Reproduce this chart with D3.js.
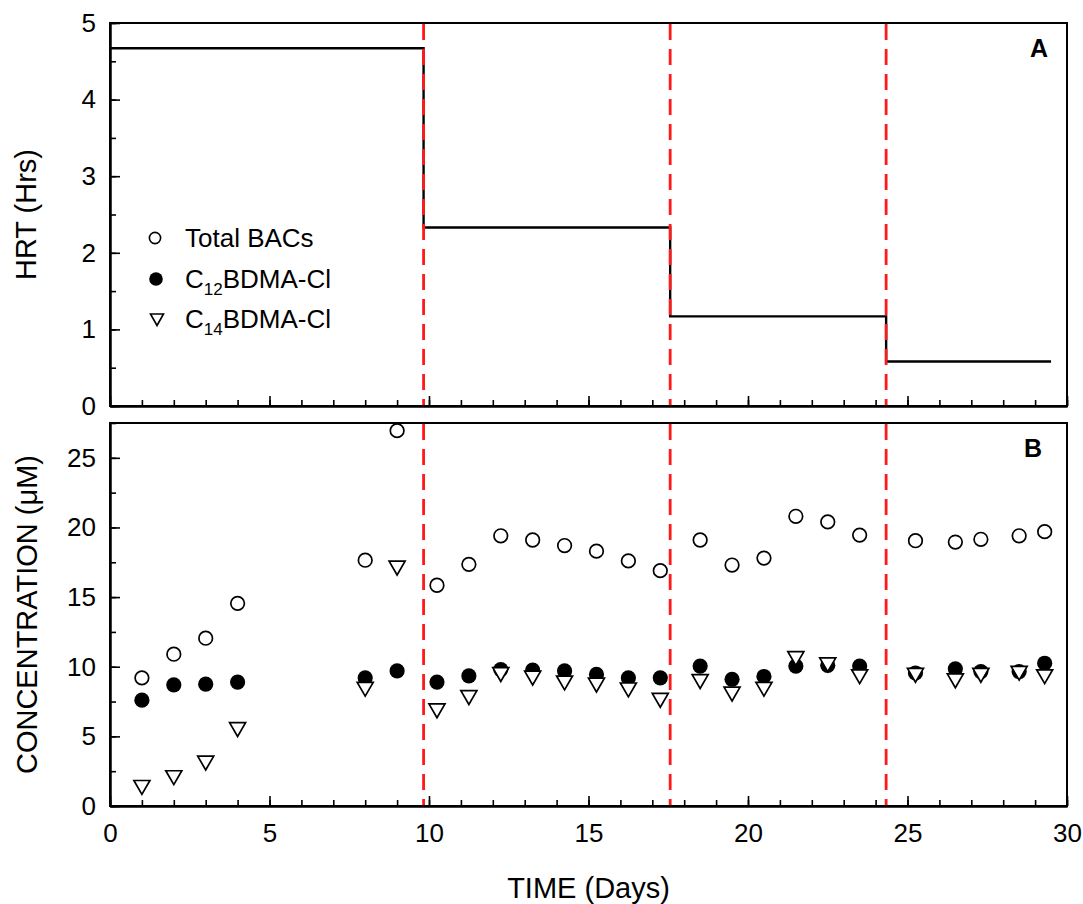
<!DOCTYPE html>
<html>
<head>
<meta charset="utf-8">
<script src="https://cdn.jsdelivr.net/npm/d3@7"></script>
<style>
  html, body { margin: 0; padding: 0; background: #fff; }
  svg { display: block; font-family: "Liberation Sans", Arial, sans-serif; }
</style>
</head>
<body>
<svg id="chart" width="1083" height="904"></svg>
<script>
// Sampling days (shared by all concentration series)
const days = [1, 2, 3, 4, 8, 9, 10.25, 11.25, 12.25, 13.25, 14.25, 15.25, 16.25, 17.25,
              18.5, 19.5, 20.5, 21.5, 22.5, 23.5, 25.25, 26.5, 27.3, 28.5, 29.3];

// Concentrations (µM)
const totalBACs = [9.2, 10.9, 12.05, 14.55, 17.65, 26.95, 15.85, 17.35, 19.4, 19.1, 18.7, 18.3, 17.6, 16.9,
                   19.1, 17.3, 17.8, 20.8, 20.4, 19.45, 19.05, 18.95, 19.15, 19.4, 19.7];
const c12BDMA = [7.6, 8.7, 8.75, 8.9, 9.2, 9.7, 8.9, 9.35, 9.8, 9.75, 9.7, 9.45, 9.2, 9.2,
                 10.05, 9.1, 9.3, 10.05, 10.1, 10.05, 9.55, 9.85, 9.65, 9.65, 10.25];
const c14BDMA = [1.45, 2.15, 3.2, 5.6, 8.5, 17.2, 6.95, 7.9, 9.55, 9.3, 8.95, 8.8, 8.45, 7.7,
                 9.05, 8.15, 8.5, 10.7, 10.25, 9.4, 9.5, 9.1, 9.5, 9.65, 9.4];

// Hydraulic retention time schedule (step changes)
const hrtDays = [0, 9.83, 17.56, 24.33, 29.5];
const hrtHours = [4.67, 2.33, 1.17, 0.58, 0.58];
const changeDays = [9.83, 17.56, 24.33];

// Tick values
const xMajorTicks = [0, 5, 10, 15, 20, 25, 30];
const hrtMajorTicks = [0, 1, 2, 3, 4, 5];
const concMajorTicks = [0, 5, 10, 15, 20, 25];

const svg = d3.select("#chart");
const left = 110, right = 1067;
const topA = 23, bottomA = 406;
const topB = 423, bottomB = 806;

const x = d3.scaleLinear().domain([0, 30]).range([left, right]);
const yA = d3.scaleLinear().domain([0, 5]).range([bottomA, topA]);
const yB = d3.scaleLinear().domain([0, 27.5]).range([bottomB, topB]);

const FONT_TICK = 26, FONT_TITLE = 29, FONT_LEGEND = 26;

function styleAxis(g) {
  g.select(".domain").attr("stroke", "#000").attr("stroke-width", 2);
  g.selectAll(".tick line").attr("stroke", "#000").attr("stroke-width", 1.6);
  g.selectAll(".tick text").attr("fill", "#000").attr("font-size", FONT_TICK)
    .attr("font-family", "'Liberation Sans', Arial, sans-serif");
}

// Draws frame, axes, panel letter and the dashed treatment-change lines;
// returns a group for the data marks that sits beneath the dashed lines.
function drawPanel(yScale, top, bottom, yMajor, yMinorStep, label, labelX, labelY, showXLabels) {
  const g = svg.append("g");
  g.append("rect").attr("x", left).attr("y", top)
    .attr("width", right - left).attr("height", bottom - top)
    .attr("fill", "none").attr("stroke", "#000").attr("stroke-width", 2);

  g.append("g").attr("transform", `translate(0,${bottom})`)
    .call(d3.axisBottom(x).tickValues(d3.range(0, 31, 1)).tickSizeInner(-6).tickSizeOuter(0).tickFormat(""))
    .call(styleAxis);
  g.append("g").attr("transform", `translate(0,${bottom})`)
    .call(d3.axisBottom(x).tickValues(xMajorTicks).tickSizeInner(-10).tickSizeOuter(0)
      .tickPadding(18).tickFormat(showXLabels ? d3.format("d") : ""))
    .call(styleAxis);

  const yMax = yScale.domain()[1];
  g.append("g").attr("transform", `translate(${left},0)`)
    .call(d3.axisLeft(yScale).tickValues(d3.range(0, yMax + 1e-9, yMinorStep)).tickSizeInner(-6).tickSizeOuter(0).tickFormat(""))
    .call(styleAxis);
  g.append("g").attr("transform", `translate(${left},0)`)
    .call(d3.axisLeft(yScale).tickValues(yMajor).tickSizeInner(-10).tickSizeOuter(0)
      .tickPadding(14).tickFormat(d3.format("d")))
    .call(styleAxis);

  g.append("text").attr("x", labelX).attr("y", labelY)
    .attr("text-anchor", "end").attr("font-size", 25).attr("font-weight", "bold")
    .text(label);

  const content = g.append("g").attr("class", "content");

  g.append("g").selectAll("line").data(changeDays).join("line")
    .attr("x1", d => x(d)).attr("x2", d => x(d))
    .attr("y1", top + 1).attr("y2", bottom - 1)
    .attr("stroke", "#ff1a1a").attr("stroke-width", 2.8)
    .attr("stroke-dasharray", "16,9");
  return content;
}

// ---- Panel A: HRT ----
const gA = drawPanel(yA, topA, bottomA, hrtMajorTicks, 0.5, "A", 1048, 57, false);
const hrtPoints = hrtDays.map((d, i) => [d, hrtHours[i]]);
gA.append("path")
  .datum(hrtPoints)
  .attr("fill", "none").attr("stroke", "#000").attr("stroke-width", 2.4)
  .attr("d", d3.line().x(d => x(d[0])).y(d => yA(d[1])).curve(d3.curveStepAfter));

svg.append("text")
  .attr("transform", `translate(36,${(topA + bottomA) / 2}) rotate(-90)`)
  .attr("text-anchor", "middle").attr("font-size", FONT_TITLE).text("HRT (Hrs)");

// ---- Panel B: concentrations ----
const gB = drawPanel(yB, topB, bottomB, concMajorTicks, 2.5, "B", 1042, 457, true);
const triPath = "M-8,-5.3L8,-5.3L0,8.5Z";

gB.selectAll("circle.total").data(days.map((d, i) => [d, totalBACs[i]])).join("circle")
  .attr("class", "total")
  .attr("cx", d => x(d[0])).attr("cy", d => yB(d[1])).attr("r", 6.8)
  .attr("fill", "#fff").attr("stroke", "#000").attr("stroke-width", 1.7);

gB.selectAll("circle.c12").data(days.map((d, i) => [d, c12BDMA[i]])).join("circle")
  .attr("class", "c12")
  .attr("cx", d => x(d[0])).attr("cy", d => yB(d[1])).attr("r", 7.6)
  .attr("fill", "#000");

gB.selectAll("path.c14").data(days.map((d, i) => [d, c14BDMA[i]])).join("path")
  .attr("class", "c14")
  .attr("transform", d => `translate(${x(d[0])},${yB(d[1])})`)
  .attr("d", triPath)
  .attr("fill", "#fff").attr("stroke", "#000").attr("stroke-width", 1.7);

svg.append("text")
  .attr("transform", `translate(37,${(topB + bottomB) / 2}) rotate(-90)`)
  .attr("text-anchor", "middle").attr("font-size", FONT_TITLE).text("CONCENTRATION (μM)");

svg.append("text")
  .attr("x", (left + right) / 2).attr("y", 898)
  .attr("text-anchor", "middle").attr("font-size", FONT_TITLE).text("TIME (Days)");

// ---- Legend (inside panel A) ----
const legend = svg.append("g");
const legendRows = [
  { kind: "open", main: "Total BACs", sub: null, tail: null, y: 238 },
  { kind: "filled", main: "C", sub: "12", tail: "BDMA-Cl", y: 279 },
  { kind: "tri", main: "C", sub: "14", tail: "BDMA-Cl", y: 319 }
];
legendRows.forEach(r => {
  if (r.kind === "open") {
    legend.append("circle").attr("cx", 155).attr("cy", r.y).attr("r", 5.6)
      .attr("fill", "#fff").attr("stroke", "#000").attr("stroke-width", 1.6);
  } else if (r.kind === "filled") {
    legend.append("circle").attr("cx", 156).attr("cy", r.y).attr("r", 6.8).attr("fill", "#000");
  } else {
    legend.append("path").attr("transform", `translate(157,${r.y})`)
      .attr("d", "M-6.5,-5L6.5,-5L0,6.5Z")
      .attr("fill", "#fff").attr("stroke", "#000").attr("stroke-width", 1.6);
  }
  const t = legend.append("text").attr("x", 185).attr("y", r.y + 9).attr("font-size", FONT_LEGEND);
  t.append("tspan").text(r.main);
  if (r.sub) {
    t.append("tspan").attr("font-size", 17).attr("dy", 7).text(r.sub);
    t.append("tspan").attr("dy", -7).text(r.tail);
  }
});
</script>
</body>
</html>
